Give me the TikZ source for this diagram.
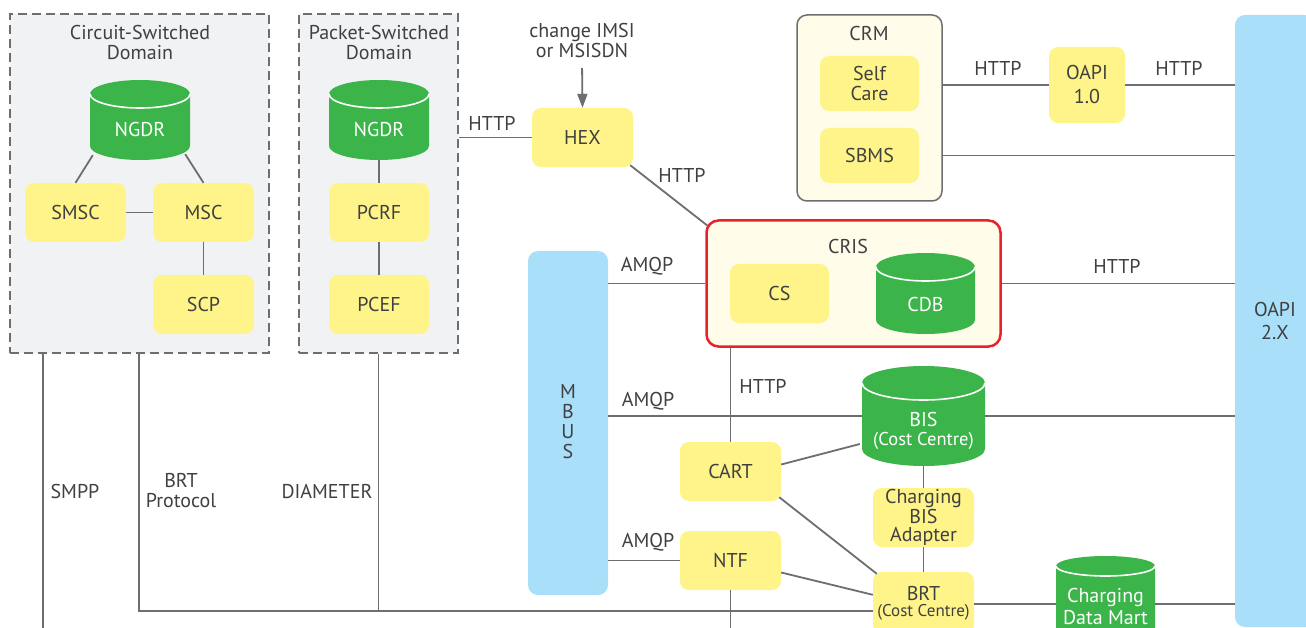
\documentclass[tikz,border=0pt]{standalone}
\usepackage{fontspec}
\setmainfont{PT Sans}
\usetikzlibrary{arrows.meta,calc}
\definecolor{cyel}{HTML}{FFF48A}
\definecolor{cgreen}{HTML}{3BB54A}
\definecolor{cblue}{HTML}{A9DFF9}
\definecolor{cgrayfill}{HTML}{F1F2F4}
\definecolor{ccream}{HTML}{FFFCEA}
\definecolor{cred}{HTML}{E8222D}
\definecolor{cline}{HTML}{6D6E71}
\definecolor{ctext}{HTML}{404040}
\newcommand\dbcyl[6]{% name, cx, top, bottom, halfwidth, ry
  \fill[cgreen] (#2-#5,#3+#6) -- (#2-#5,#4-#6) arc[start angle=180,end angle=360,x radius=#5pt,y radius=#6pt] -- (#2+#5,#3+#6) arc[start angle=0,end angle=180,x radius=#5pt,y radius=#6pt] -- cycle;
  \draw[white,line width=1.6pt] (#2-#5,#3+#6) arc[start angle=180,end angle=360,x radius=#5pt,y radius=#6pt];
  \node[inner sep=0pt,minimum width=2*#5 pt,minimum height=#4-#3 pt] (#1) at (#2,{(#3+#4)/2}) {};
}
\tikzset{
  txtbase/.style={font=\fontsize{20}{20}\selectfont,text=ctext,align=center},
  ybox/.style={txtbase,fill=cyel,rounded corners=9pt,inner sep=0pt,minimum width=101pt,minimum height=59pt},
  bluebar/.style={txtbase,fill=cblue,rounded corners=10pt,inner sep=0pt},
  domainbox/.style={draw=cline,line width=1.8pt,dash pattern=on 9pt off 5pt,fill=cgrayfill,inner sep=0pt},
  conn/.style={draw=cline,line width=1.8pt},
  lbl/.style={txtbase,inner sep=1pt},
  wtxt/.style={txtbase,text=white,inner sep=0pt},
}
\begin{document}
\begin{tikzpicture}[x=1pt,y=-1pt]
\useasboundingbox (0,0) rectangle (1306,628);
\clip (0,0) rectangle (1306,628);
\fill[white] (0,0) rectangle (1306,628);

% domains
\node[domainbox,minimum width=259pt,minimum height=339pt] (csd) at (139.5,183.5) {};
\node[domainbox,minimum width=159pt,minimum height=339pt] (psd) at (378.5,183.5) {};
\node[txtbase] (csdt) at (140,43) {Circuit-Switched\\Domain};
\node[txtbase] (psdt) at (379,43) {Packet-Switched\\Domain};

% CRM and CRIS containers
\node[draw=cline,line width=1.5pt,fill=ccream,rounded corners=10pt,minimum width=145pt,minimum height=186pt,inner sep=0pt] (crm) at (869.5,108) {};
\node[txtbase] (crmt) at (869,34) {CRM};
\node[draw=cred,line width=2.5pt,fill=ccream,rounded corners=12pt,minimum width=294pt,minimum height=126pt,inner sep=0pt] (cris) at (853.5,283.5) {};
\node[txtbase] (crist) at (848,247) {CRIS};

% cylinders
\dbcyl{ngdrA}{140}{80}{160}{50}{14}
\node[wtxt] (ngdrAt) at (140,130) {NGDR};
\dbcyl{ngdrB}{379}{80}{160}{50}{14}
\node[wtxt] (ngdrBt) at (379,130) {NGDR};
\dbcyl{cdb}{925.5}{253}{334}{49.5}{14}
\node[wtxt] (cdbt) at (925.5,304) {CDB};
\dbcyl{bis}{923.5}{366}{466}{61.5}{17}
\node[wtxt] (bist) at (923.5,419) {BIS};
\node[wtxt,font=\fontsize{18.5}{18}\selectfont] (bisc) at (923.5,441) {(Cost Centre)};
\dbcyl{cdm}{1105.5}{556}{660}{49.5}{10}
\node[wtxt] (cdmt) at (1105.5,597) {Charging};
\node[wtxt] (cdmt2) at (1105.5,618) {Data Mart};

% yellow boxes
\node[ybox] (smsc) at (75.5,212.5) {SMSC};
\node[ybox] (msc) at (203.5,212.5) {MSC};
\node[ybox] (scp) at (203.5,304.5) {SCP};
\node[ybox,minimum width=100pt] (pcrf) at (379,212.5) {PCRF};
\node[ybox,minimum width=100pt] (pcef) at (379,304.5) {PCEF};
\node[ybox] (hex) at (582.5,137.5) {HEX};
\node[ybox,minimum width=99pt,minimum height=55pt] (selfcare) at (869.5,83.5) {Self\\Care};
\node[ybox,minimum width=99pt,minimum height=55pt] (sbms) at (869.5,155.5) {SBMS};
\node[ybox,minimum width=76pt,minimum height=76pt,font=\fontsize{20}{24}\selectfont] (oapiA) at (1087,85) {OAPI\\1.0};
\node[ybox,minimum width=99pt] (cs) at (779.5,293.5) {CS};
\node[ybox] (cart) at (730.5,471.5) {CART};
\node[ybox] (ntf) at (730.5,560.5) {NTF};
\node[ybox,font=\fontsize{20}{18}\selectfont] (adapter) at (923.5,517.5) {Charging\\BIS\\Adapter};
\node[ybox,minimum height=62pt] (brt) at (923.5,603) {};
\node[txtbase,inner sep=0pt] (brtt) at (923.5,593) {BRT};
\node[txtbase,inner sep=0pt,font=\fontsize{17}{17}\selectfont] (brtc) at (923.5,612) {(Cost Centre)};

% blue bars
\node[bluebar,minimum width=80pt,minimum height=344pt] (mbus) at (568,423) {};
\node[txtbase] (mbust) at (568,422) {M\\B\\U\\S};
\node[bluebar,minimum width=80pt,minimum height=612pt] (oapiB) at (1275,321) {};
\node[txtbase,font=\fontsize{20}{23}\selectfont] (oapiBt) at (1275,321) {OAPI\\2.X};

% helper coordinates
\coordinate (bl) at (139,611);
\coordinate (smppend) at (43,640);
\coordinate (ntfend) at (730.5,640);
\coordinate (cdmrow) at (0,604);

% connectors inside domains
\draw[conn] ($(ngdrA.south west)+(3,-5)$) -- (smsc.north);
\draw[conn] ($(ngdrA.south east)+(-5,-6)$) -- (msc.north);
\draw[conn] (smsc) -- (msc);
\draw[conn] (msc) -- (scp);
\draw[conn] (ngdrB) -- (pcrf);
\draw[conn] (pcrf) -- (pcef);

% bottom lines
\draw[conn] (smppend |- csd.south) -- (smppend);
\draw[conn] (bl |- csd.south) -- (bl) -- (brt.west |- bl);
\draw[conn] (psd.south) -- (psd.south |- bl);

% HEX
\node[txtbase] (chg) at (582,41) {change IMSI\\or MSISDN};
\draw[conn,-{Triangle[length=14pt,width=10pt]},shorten <=6pt] (chg.south) -- (hex.north);
\draw[conn] (psd.east |- hex.west) -- (hex.west);
\draw[conn] ($(hex.south east)+(-3,-2)$) -- ($(cris.north west)+(3,7)$);

% CRM side
\draw[conn] (crm.east |- oapiA) -- (oapiA.west);
\draw[conn] (oapiA.east) -- (oapiB.west |- oapiA);
\draw[conn] (crm.east |- sbms) -- (oapiB.west |- sbms);

% CRIS
\draw[conn] (cris.east) -- (oapiB.west |- cris.east);
\draw[conn] (mbus.east |- cris.west) -- (cris.west);
\draw[conn] (cart.north) -- (cart.north |- cris.south);

% MBUS
\draw[conn] (mbus.east |- bis.west) -- (bis.west);
\draw[conn] (bis.east) -- (oapiB.west |- bis.east);
\draw[conn] (mbus.east |- ntf.west) -- (ntf.west);
\draw[conn] (ntf.south) -- (ntfend);

% charging
\draw[conn] ($(cart.east)+(0,-7)$) -- ($(bis.west)+(-2,28)$);
\draw[conn] ($(cart.south east)+(-2,-4)$) -- ($(brt.north west)+(4,2)$);
\draw[conn] ($(ntf.east)+(0,12)$) -- ($(brt.north west)+(0,23)$);
\draw[conn] (bis.south) -- (adapter.north);
\draw[conn] (adapter.south) -- (brt.north);
\draw[conn] (brt.east |- cdmrow) -- (cdm.west |- cdmrow);
\draw[conn] (cdm.east |- cdmrow) -- (oapiB.west |- cdmrow);

% labels
\node[lbl] (l1) at (492,123) {HTTP};
\node[lbl] (l2) at (682,175) {HTTP};
\node[lbl] (l3) at (998,68) {HTTP};
\node[lbl] (l4) at (1179,68) {HTTP};
\node[lbl] (l5) at (1117,266) {HTTP};
\node[lbl] (l6) at (647,266) {AMQP};
\node[lbl] (l7) at (648,401) {AMQP};
\node[lbl] (l8) at (648,542) {AMQP};
\node[lbl] (l9) at (763,386) {HTTP};
\node[lbl] (l10) at (75,491) {SMPP};
\node[lbl] (l11) at (181,491) {BRT\\Protocol};
\node[lbl] (l12) at (327,491) {DIAMETER};
\end{tikzpicture}
\end{document}
